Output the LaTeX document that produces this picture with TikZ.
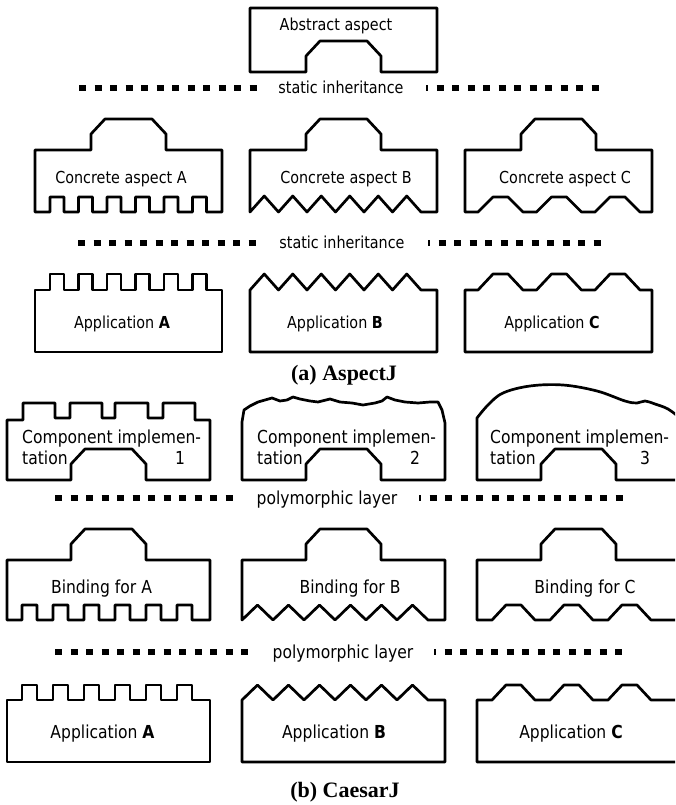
\documentclass[tikz,border=0pt]{standalone}
\usepackage{fontspec}
\setmainfont{DejaVu Sans}[FakeStretch=0.87]
\newfontfamily\capfont{Liberation Serif}
\begin{document}
\begin{tikzpicture}[x=1pt,y=-1pt,
  outline/.style={line width=2.7pt, line join=round},
  % trapezoid tab of width 75 rising from a base line, drawn right to left
  tabRL/.style 2 args={insert path={
    -- ({#1+37.5},#2) -- ({#1+37.5},{#2-16}) -- ({#1+23.5},{#2-31})
    -- ({#1-23.5},{#2-31}) -- ({#1-37.5},{#2-16}) -- ({#1-37.5},#2)}},
  % rectangular teeth: first x, pitch, width, count, base y, tip y
  comb/.style n args={6}{insert path={
    \foreach \k in {1,...,#4}{
      -- ({#1+(\k-1)*#2},#5) -- ({#1+(\k-1)*#2},#6)
      -- ({#1+(\k-1)*#2+#3},#6) -- ({#1+(\k-1)*#2+#3},#5)}}},
  % saw teeth: first x, pitch, count, base y, tip y
  zig/.style n args={5}{insert path={
    \foreach \k in {1,...,#3}{
      -- ({#1+(\k-0.5)*#2},#5) -- ({#1+\k*#2},#4)}}},
  % trapezoid bumps: first x, pitch, rise, top, count, base y, tip y
  trap/.style n args={7}{insert path={
    \foreach \k in {1,...,#5}{
      -- ({#1+(\k-1)*#2},#6) -- ({#1+(\k-1)*#2+#3},#7)
      -- ({#1+(\k-1)*#2+#3+#4},#7) -- ({#1+(\k-1)*#2+2*#3+#4},#6)}}},
  sepline/.style={line width=6.5pt, dash pattern=on 7pt off 8.5pt},
  sepline2/.style={sepline, dash phase=5pt},
  lblA/.style={anchor=base, inner sep=0pt, font=\fontsize{16.5}{19}\selectfont},
  lblB/.style={anchor=base, inner sep=0pt, font=\fontsize{17.9}{21}\selectfont},
  lblBw/.style={anchor=base west, inner sep=0pt, font=\fontsize{17.9}{21}\selectfont},
  caption/.style={anchor=base, inner sep=0pt, font=\capfont\bfseries\fontsize{22}{26}\selectfont}
]
\useasboundingbox (0,0) rectangle (675,805);
\clip (0,0) rectangle (675,805);

% ---------------- (a) AspectJ ----------------
\draw[outline] (250,72) -- (250,8) -- (437,8) -- (437,72) [tabRL={343.5}{72}] -- cycle;
\node[lblA] (abs) at (336,31) {Abstract aspect};

% static inheritance (upper)
\coordinate (s1a) at (79,88);  \coordinate (s1b) at (256.5,88);
\coordinate (s1c) at (426,88); \coordinate (s1d) at (600,88);
\draw[sepline] (s1a) -- (s1b);
\draw[sepline2] (s1c) -- (s1d);
\node[lblA] (si1) at (341,93.5) {static inheritance};

% concrete aspects
\draw[outline] (35,212) [comb={50}{28.5}{14}{6}{212}{197}] -- (222,212) -- (222,150)
  [tabRL={128.5}{150}] -- (35,150) -- cycle;
\draw[outline] (250,212) [zig={250}{28.5}{6}{212}{196}] -- (437,212) -- (437,150)
  [tabRL={343.5}{150}] -- (250,150) -- cycle;
\draw[outline] (465,212) [trap={478}{58.5}{15}{15}{3}{212}{197}] -- (652,212) -- (652,150)
  [tabRL={558.5}{150}] -- (465,150) -- cycle;
\node[lblA] (ca) at (121,183) {Concrete aspect A};
\node[lblA] (cb) at (346,183) {Concrete aspect B};
\node[lblA] (cc) at (565,183) {Concrete aspect C};

% static inheritance (lower)
\coordinate (s2a) at (78,243);  \coordinate (s2b) at (255.5,243);
\coordinate (s2c) at (428,243); \coordinate (s2d) at (602,243);
\draw[sepline] (s2a) -- (s2b);
\draw[sepline2] (s2c) -- (s2d);
\node[lblA] (si2) at (342,248.5) {static inheritance};

% applications
\draw[outline] (35,352) -- (35,290) [comb={50}{28.5}{14}{6}{290}{274}] -- (222,290) -- (222,352) -- cycle;
\draw[outline] (250,352) -- (250,290) [zig={250}{28.5}{6}{290}{274}] -- (437,290) -- (437,352) -- cycle;
\draw[outline] (465,352) -- (465,290) [trap={478}{58.5}{15}{15}{3}{290}{274}] -- (652,290) -- (652,352) -- cycle;
\node[lblA] (aa) at (122,328) {Application \textbf{A}};
\node[lblA] (ab) at (335,328) {Application \textbf{B}};
\node[lblA] (ac) at (552,328) {Application \textbf{C}};

\node[caption] (capa) at (344,380) {(a) AspectJ};

% ---------------- (b) CaesarJ ----------------
% component implementations
\draw[outline] (7,480) -- (7,420) -- (23,420) -- (23,403) -- (55,403) -- (55,418)
  -- (70,418) -- (70,403) -- (102,403) -- (102,418) -- (115,418) -- (115,403)
  -- (148,403) -- (148,418) -- (163,418) -- (163,403) -- (195,403) -- (195,420)
  -- (210,420) -- (210,480) [tabRL={108.5}{480}] -- cycle;
\draw[outline] (242,480) -- (242,422) -- (244,410) -- (250,406) -- (258,402) -- (272,398)
  -- (280,401) -- (287,400) -- (293,397) -- (300,399) -- (310,401) -- (318,402)
  -- (330,399) -- (340,402) -- (352,403) -- (363,405) -- (375,403) -- (382,401)
  -- (387,397) -- (395,400) -- (405,402) -- (418,403) -- (430,402) -- (438,402)
  -- (442,410) -- (445,423) -- (445,480) [tabRL={343.5}{480}] -- cycle;
\draw[outline] (477,480) -- (477,418) -- plot[smooth, tension=0.6] coordinates {
  (477,418) (488,405) (503,393) (530,386) (563,385) (597,391) (625,401)
  (637,403) (645,401) (655,404) (668,409) (680,418)}
  -- (680,480) [tabRL={578.5}{480}] -- cycle;
\node[lblBw] (ci1a) at (22,443) {Component implemen-};
\node[lblBw] (ci1b) at (22,464) {tation};
\node[lblB]  (ci1n) at (180,464) {1};
\node[lblBw] (ci2a) at (257,443) {Component implemen-};
\node[lblBw] (ci2b) at (257,464) {tation};
\node[lblB]  (ci2n) at (415,464) {2};
\node[lblBw] (ci3a) at (490,443) {Component implemen-};
\node[lblBw] (ci3b) at (490,464) {tation};
\node[lblB]  (ci3n) at (645,464) {3};

% polymorphic layer (upper)
\coordinate (s3a) at (55,498);  \coordinate (s3b) at (232.5,498);
\coordinate (s3c) at (419,498); \coordinate (s3d) at (623,498);
\draw[sepline] (s3a) -- (s3b);
\draw[sepline2] (s3c) -- (s3d);
\node[lblB] (pl1) at (327,504) {polymorphic layer};

% bindings
\draw[outline] (7,620) [comb={22}{31}{15}{6}{620}{605}] -- (210,620) -- (210,560)
  [tabRL={108.5}{560}] -- (7,560) -- cycle;
\draw[outline] (242,620) [zig={242}{31}{6}{620}{605}] -- (445,620) -- (445,560)
  [tabRL={343.5}{560}] -- (242,560) -- cycle;
\draw[outline] (477,620) [trap={492}{58}{14}{15}{3}{620}{605}] -- (680,620) -- (680,560)
  [tabRL={578.5}{560}] -- (477,560) -- cycle;
\node[lblB] (ba) at (101.5,593) {Binding for A};
\node[lblB] (bb) at (350,593) {Binding for B};
\node[lblB] (bc) at (585,593) {Binding for C};

% polymorphic layer (lower)
\coordinate (s4a) at (55,652);  \coordinate (s4b) at (248,652);
\coordinate (s4c) at (434,652); \coordinate (s4d) at (623,652);
\draw[sepline] (s4a) -- (s4b);
\draw[sepline2] (s4c) -- (s4d);
\node[lblB] (pl2) at (343,658) {polymorphic layer};

% applications
\draw[outline] (7,762) -- (7,700) [comb={22}{31}{15}{6}{700}{685}] -- (210,700) -- (210,762) -- cycle;
\draw[outline] (242,762) -- (242,700) [zig={242}{31}{6}{700}{685}] -- (445,700) -- (445,762) -- cycle;
\draw[outline] (477,762) -- (477,700) [trap={492}{58}{14}{15}{3}{700}{685}] -- (680,700) -- (680,762) -- cycle;
\node[lblB] (pa) at (102.5,738) {Application \textbf{A}};
\node[lblB] (pb) at (334,738) {Application \textbf{B}};
\node[lblB] (pc) at (571,738) {Application \textbf{C}};

\node[caption] (capb) at (345,797) {(b) CaesarJ};
\end{tikzpicture}
\end{document}
